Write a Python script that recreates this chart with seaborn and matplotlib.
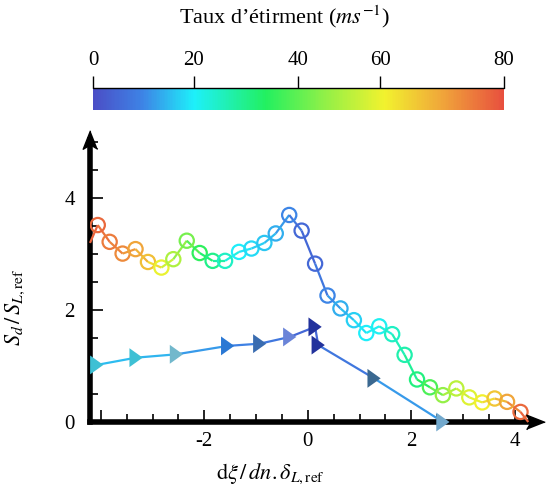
import numpy as np
import matplotlib
matplotlib.use("Agg")
import matplotlib.pyplot as plt
import seaborn as sns
from matplotlib.collections import LineCollection
from matplotlib.colors import LinearSegmentedColormap, FuncNorm
from matplotlib.cm import ScalarMappable

# flame curve (circles); first and last points carry the line only
curve_x = [-4.21, -4.06, -3.83, -3.58, -3.33, -3.09, -2.83, -2.60, -2.34, -2.09,
           -1.84, -1.60, -1.33, -1.09, -0.84, -0.62, -0.36, -0.12, 0.14, 0.38,
           0.63, 0.89, 1.13, 1.38, 1.63, 1.87, 2.11, 2.36, 2.61, 2.87,
           3.12, 3.37, 3.61, 3.85, 4.11, 4.26]
curve_y = [3.20, 3.52, 3.22, 3.01, 3.09, 2.86, 2.76, 2.91, 3.24, 3.02,
           2.88, 2.88, 3.04, 3.10, 3.20, 3.37, 3.70, 3.42, 2.83, 2.26,
           2.03, 1.82, 1.59, 1.71, 1.57, 1.20, 0.76, 0.62, 0.48, 0.60,
           0.44, 0.35, 0.42, 0.36, 0.18, 0.0]
curve_rate = [78, 77, 75, 73, 70, 67, 60, 51, 43, 35,
              30, 25, 20, 18, 16, 14, 10, 5, 5, 10,
              14, 17, 20, 21, 25, 27, 31, 38, 47, 53,
              58, 61, 66, 70, 77, 78]

# second series (triangles)
tri_x = [-4.08, -3.32, -2.54, -1.55, -0.93, -0.35, 0.14, 0.20, 1.28, 2.61]
tri_y = [1.02, 1.15, 1.21, 1.36, 1.40, 1.52, 1.70, 1.375, 0.78, 0.0]
tri_rate = [15, 15, 14, 10, 9, 6, 4, 5, 10, 14]
tri_colors = ['#3ec0d4', '#3ec0d4', '#72b8cc', '#2a78d4', '#3a6cb0',
              '#6a84d8', '#22329c', '#22329c', '#3a6890', '#72a8cc']

# colour bar
cbar_ticks = [0, 20, 40, 60, 80]
cbar_tick_pos = [0.0, 0.245, 0.498, 0.699, 1.0]
cmap_pos = [0.0, 0.12, 0.245, 0.42, 0.56, 0.71, 0.85, 1.0]
cmap_hex = ['#4b4ec6', '#3d84e6', '#1ef0fa', '#22f060', '#8ef048',
            '#f2f22e', '#f0a63a', '#e8503e']

sns.set_style("white")
plt.rcParams['font.family'] = ['Liberation Serif', 'DejaVu Serif']
plt.rcParams['mathtext.fontset'] = 'stix'
plt.rcParams['axes.unicode_minus'] = False
plt.rcParams['text.color'] = 'black'
plt.rcParams['axes.labelcolor'] = 'black'
plt.rcParams['xtick.color'] = 'black'
plt.rcParams['ytick.color'] = 'black'
plt.rcParams['axes.edgecolor'] = 'black'

cmap = LinearSegmentedColormap.from_list("taux", list(zip(cmap_pos, cmap_hex)))
norm = FuncNorm((lambda v: np.interp(v, cbar_ticks, cbar_tick_pos),
                 lambda p: np.interp(p, cbar_tick_pos, cbar_ticks)), vmin=0, vmax=80)

W, H = 546, 486
fig = plt.figure(figsize=(W / 100, H / 100), dpi=100)
ax = fig.add_axes([90 / W, (H - 422) / H, 445 / W, 282 / H])
ax.set_xlim(-4.21, 4.39)
ax.set_ylim(0, 5.04)


def colored_line(xs, ys, vals, lw):
    pts = np.column_stack([xs, ys])
    segs = np.stack([pts[:-1], pts[1:]], axis=1)
    mid = (np.asarray(vals[:-1]) + np.asarray(vals[1:])) / 2
    lc = LineCollection(segs, colors=cmap(norm(mid)), linewidths=lw,
                        zorder=4, clip_on=False)
    ax.add_collection(lc)


# triangles
colored_line(tri_x, tri_y, tri_rate, 1.6)
tri_marker = [(-0.7, -1.0), (-0.7, 1.0), (0.7, 0.0)]
labels = [f"t{i}" for i in range(len(tri_x))]
sns.scatterplot(x=tri_x, y=tri_y, hue=labels, hue_order=labels, palette=tri_colors,
                marker=tri_marker, s=185, edgecolor='none', legend=False,
                ax=ax, zorder=5, clip_on=False)

# circles
colored_line(curve_x, curve_y, curve_rate, 1.6)
sns.scatterplot(x=curve_x[1:-1], y=curve_y[1:-1], hue=curve_rate[1:-1],
                palette=cmap, hue_norm=norm, marker='o', s=105, linewidth=1.6,
                legend=False, ax=ax, zorder=6)
circ = ax.collections[-1]
circ.set_edgecolors(circ.get_facecolors())
circ.set_facecolors('none')

# axes styling
for side in ['top', 'right']:
    ax.spines[side].set_visible(False)
for side in ['left', 'bottom']:
    ax.spines[side].set_linewidth(4)
    ax.spines[side].set_color('black')
    ax.spines[side].set_zorder(3)
ax.set_xticks([-4, -2, 0, 2, 4])
ax.set_xticklabels(['', '-2', '0', '2', '4'])
ax.set_xticks(np.arange(-4, 4.3, 0.5), minor=True)
ax.set_yticks([0, 2, 4])
ax.set_yticks(np.arange(0, 5.01, 0.5), minor=True)
ax.tick_params(which='both', direction='in', color='black', width=1.2,
               labelsize=15, bottom=True, left=True, top=False, right=False)
ax.tick_params(which='major', length=9)
ax.tick_params(which='minor', length=5.5)
ax.tick_params(axis='x', pad=7)
ax.tick_params(axis='y', pad=11)

arrow = [(1.0, 0.0), (-0.9, 0.75), (-0.45, 0.0), (-0.9, -0.75)]
arrow_up = [(-y, x) for x, y in arrow]
ax.plot(1, 0, marker=arrow, ms=14, color='black', transform=ax.transAxes,
        clip_on=False, zorder=7)
ax.plot(0, 1, marker=arrow_up, ms=14, color='black', transform=ax.transAxes,
        clip_on=False, zorder=7)

ax.set_xlabel(r'$\mathrm{d}\xi\,/\,dn.\delta_{L,\mathrm{ref}}$', fontsize=16)
ax.xaxis.set_label_coords((270 - 90) / 445, (422 - 462) / 282)
ax.set_ylabel(r'$S_d\,/\,S_{L,\mathrm{ref}}$', fontsize=16)
ax.yaxis.set_label_coords((27 - 90) / 445, (422 - 307) / 282)

# colour bar on top
cax = fig.add_axes([93 / W, (H - 110) / H, 411 / W, 22 / H])
sm = ScalarMappable(norm=norm, cmap=cmap)
cbar = fig.colorbar(sm, cax=cax, orientation='horizontal', ticks=cbar_ticks)
cbar.outline.set_visible(False)
cax.xaxis.set_ticks_position('top')
cax.xaxis.set_minor_locator(matplotlib.ticker.NullLocator())
cax.tick_params(axis='x', direction='out', length=9, width=1, pad=4,
                labelsize=15, top=True, bottom=False, color='black')
cax.plot([0, 1], [1, 1], color='black', lw=1, transform=cax.transAxes, clip_on=False)
fig.text(284 / W, 1 - 17 / H, 'Taux d’étirment ($ms^{-1}$)', ha='center', va='center',
         fontsize=16)

fig.savefig("out.png", dpi=100)
